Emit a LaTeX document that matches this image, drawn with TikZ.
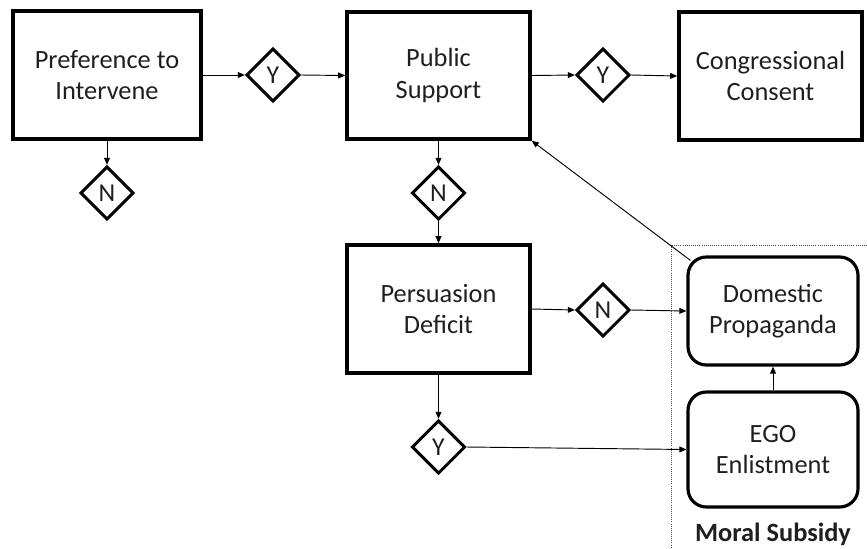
\documentclass[tikz,border=0pt]{standalone}
\usepackage{fontspec}
\setmainfont{Carlito}
\usetikzlibrary{shapes.geometric,arrows.meta,calc}
\begin{document}
\begin{tikzpicture}[x=0.03cm,y=-0.03cm,
  box/.style={draw,line width=3pt,align=center,font=\fontsize{22.5}{27}\selectfont,text=black!88},
  rbox/.style={box,rounded corners=0.55cm,line width=2.7pt},
  dec/.style={draw,diamond,line width=2.5pt,inner sep=0pt,minimum width=1.6cm,minimum height=1.6cm,font=\fontsize{22}{25}\selectfont,text=black!88},
  conn/.style={line width=0.8pt,-{Triangle[length=6pt,width=5pt]}}]
\useasboundingbox (0,0) rectangle (867,548);
\node[box,minimum width=5.64cm,minimum height=3.84cm] (pref) at (107,75) {Preference to\\Intervene};
\node[box,minimum width=5.49cm,minimum height=3.81cm] (pub) at (438.5,75.5) {Public\\Support};
\node[box,minimum width=5.49cm,minimum height=3.84cm] (cong) at (770.5,76) {Congressional\\Consent};
\node[box,minimum width=5.49cm,minimum height=3.84cm] (pers) at (438.5,309) {Persuasion\\Deficit};
\node[rbox,minimum width=5.1cm,minimum height=3.24cm] (dom) at (773,311) {Domestic\\Propaganda};
\node[rbox,minimum width=5.1cm,minimum height=3.45cm] (ego) at (773,449.5) {EGO\\Enlistment};
\node[dec] (y1) at (273,75) {Y};
\node[dec] (y2) at (603,75) {Y};
\node[dec] (n1) at (107,193) {N};
\node[dec] (n2) at (438.5,193) {N};
\node[dec] (n3) at (603,310) {N};
\node[dec] (y3) at (438.5,447) {Y};
\node[anchor=base,font=\fontsize{22.5}{27}\selectfont\bfseries,text=black!88] (ms) at (773,541) {Moral Subsidy};
\draw[densely dotted,line width=0.8pt,black!70] (867,245) -- (671,245) -- (671,548);
\draw[conn] (pref.east) -- (y1.west);
\draw[conn] (y1.east) -- (pub.west);
\draw[conn] (pub.east) -- (y2.west);
\draw[conn] (y2.east) -- (cong.west);
\draw[conn] (pref.south) -- (n1.north);
\draw[conn] (pub.south) -- (n2.north);
\draw[conn] (n2.south) -- (pers.north);
\draw[conn] (pers.east) -- (n3.west);
\draw[conn] (n3.east) -- (dom.west);
\draw[conn] (pers.south) -- (y3.north);
\draw[conn] (y3.east) -- (ego.west);
\draw[conn] (ego.north) -- (dom.south);
\draw[conn] ($(dom.north west)+(4,5)$) -- (pub.south east);
\end{tikzpicture}
\end{document}
